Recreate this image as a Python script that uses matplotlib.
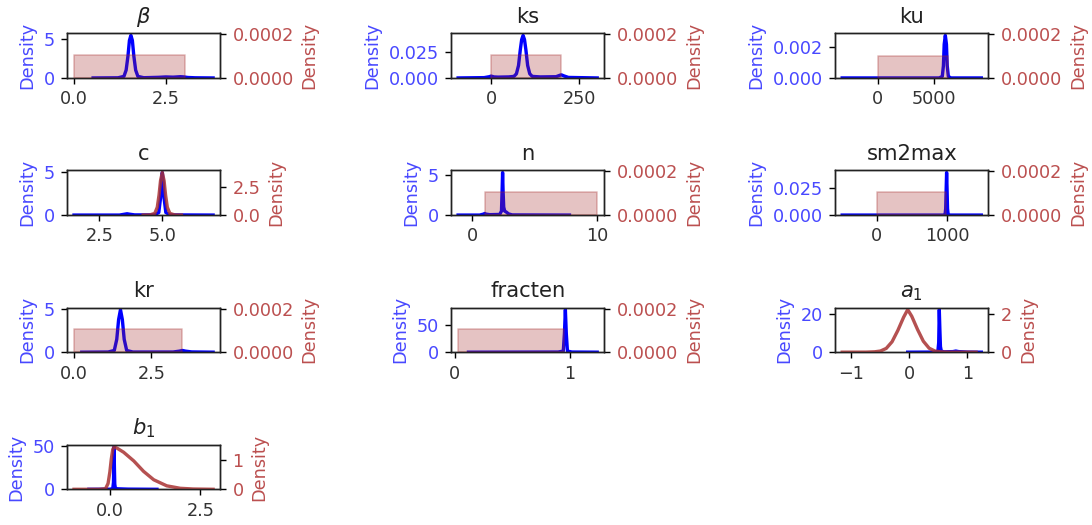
import matplotlib
matplotlib.use("Agg")
import matplotlib.pyplot as plt

# ---------------- data ----------------
titles = [r"$\beta$", "ks", "ku", "c", "n", "sm2max", "kr", "fracten", r"$a_1$", r"$b_1$"]

# posterior density curves (blue, left axis)
beta_x = [0.52, 1.2, 1.36, 1.42, 1.47, 1.51, 1.55, 1.59, 1.63, 1.68, 1.74, 1.9, 2.3, 2.5, 2.7, 2.9, 3.0, 3.1, 3.3, 3.79]
beta_y = [0.0, 0.02, 0.2, 1.0, 2.8, 4.8, 5.44, 4.8, 2.8, 1.0, 0.2, 0.03, 0.08, 0.13, 0.1, 0.16, 0.13, 0.06, 0.02, 0.0]
ks_x = [-94, -20, -5, 0, 8, 20, 50, 65, 72, 78, 83, 87, 91, 95, 99, 104, 110, 117, 140, 185, 195, 200, 207, 220, 302]
ks_y = [0, 0.0003, 0.0012, 0.0018, 0.001, 0.0008, 0.001, 0.0015, 0.004, 0.012, 0.027, 0.037, 0.041, 0.037, 0.027, 0.012, 0.004, 0.0015, 0.001, 0.0012, 0.0025, 0.003, 0.002, 0.0005, 0]
ku_x = [-3150, 5500, 5780, 5880, 5950, 6050, 6150, 6220, 6320, 6550, 9260]
ku_y = [0, 0, 0.0001, 0.0008, 0.0022, 0.00278, 0.0022, 0.0008, 0.0001, 0, 0]
c_x = [1.49, 3.3, 3.5, 3.6, 3.7, 3.9, 4.7, 4.86, 4.93, 4.97, 5.0, 5.03, 5.07, 5.14, 5.3, 7.02]
c_y = [0, 0, 0.1, 0.15, 0.1, 0.02, 0.02, 0.3, 2.0, 4.0, 4.95, 4.0, 2.0, 0.3, 0.02, 0]
n_x = [-1.13, 0.6, 0.9, 1.0, 1.1, 1.4, 2.2, 2.34, 2.39, 2.43, 2.47, 2.52, 2.6, 2.75, 2.9, 3.2, 7.78]
n_y = [0, 0, 0.12, 0.2, 0.12, 0.05, 0.08, 0.5, 3.0, 5.37, 3.0, 1.0, 0.5, 0.35, 0.15, 0.02, 0]
sm_x = [-491, 940, 968, 977, 984, 990, 996, 1003, 1012, 1040, 1482]
sm_y = [0, 0, 0.0005, 0.006, 0.025, 0.0398, 0.025, 0.006, 0.0005, 0, 0]
kr_x = [0.25, 1.1, 1.3, 1.38, 1.44, 1.5, 1.56, 1.62, 1.70, 1.9, 3.2, 3.4, 3.5, 3.6, 3.8, 4.49]
kr_y = [0, 0.02, 0.2, 1.5, 3.8, 4.95, 3.8, 1.5, 0.2, 0.02, 0.02, 0.12, 0.2, 0.12, 0.03, 0]
fr_x = [0.12, 0.9, 0.945, 0.955, 0.963, 0.971, 0.981, 1.02, 1.24]
fr_y = [0, 0.3, 2, 35, 79, 35, 2, 0.3, 0]
a1_x = [-0.03, 0.4, 0.49, 0.505, 0.515, 0.525, 0.535, 0.55, 0.6, 0.75, 0.8, 0.85, 1.0, 1.24]
a1_y = [0, 0.05, 0.3, 5, 22.5, 12, 3, 0.5, 0.2, 0.3, 0.6, 0.3, 0.05, 0]
b1_x = [-0.58, 0.0, 0.08, 0.1, 0.115, 0.125, 0.135, 0.15, 0.2, 0.5, 1.30]
b1_y = [0, 0.1, 0.8, 8, 48.7, 25, 6, 1.5, 0.6, 0.2, 0]

# priors: uniform (lo, hi, height) or density curve (red, right axis)
prior_uniform = {
    0: (0.0, 3.02, 0.000105),
    1: (0, 200, 0.000105),
    2: (0, 6250, 0.000102),
    4: (1.0, 10.0, 0.000107),
    5: (0, 980, 0.000107),
    6: (0.0, 3.5, 0.000107),
    7: (0.03, 0.955, 0.000107),
}
c_prior_x = [4.24, 4.5, 4.7, 4.8, 4.87, 4.93, 5.0, 5.07, 5.13, 5.2, 5.3, 5.5, 5.76]
c_prior_y = [0, 0.01, 0.15, 0.7, 1.8, 3.1, 3.83, 3.1, 1.8, 0.7, 0.15, 0.01, 0]
a1_prior_x = [-1.16, -0.75, -0.6, -0.5, -0.4, -0.3, -0.2, -0.1, -0.03, 0.04, 0.14, 0.24, 0.34, 0.44, 0.54, 0.7, 1.15]
a1_prior_y = [0, 0.002, 0.02, 0.06, 0.2, 0.55, 1.15, 1.85, 2.25, 1.9, 1.2, 0.58, 0.21, 0.06, 0.015, 0.002, 0]
b1_prior_x = [-0.99, -0.3, -0.12, -0.05, 0.0, 0.04, 0.08, 0.12, 0.2, 0.38, 0.66, 0.93, 1.21, 1.57, 1.94, 2.3, 2.85]
b1_prior_y = [0, 0, 0.02, 0.2, 0.6, 1.05, 1.38, 1.47, 1.42, 1.28, 0.98, 0.62, 0.33, 0.12, 0.035, 0.01, 0]
prior_curves = {3: (c_prior_x, c_prior_y), 8: (a1_prior_x, a1_prior_y), 9: (b1_prior_x, b1_prior_y)}

post = [(beta_x, beta_y), (ks_x, ks_y), (ku_x, ku_y), (c_x, c_y), (n_x, n_y),
        (sm_x, sm_y), (kr_x, kr_y), (fr_x, fr_y), (a1_x, a1_y), (b1_x, b1_y)]

# tick labels
xticks = [[0.0, 2.5], [0, 250], [0, 5000], [2.5, 5.0], [0, 10], [0, 1000],
          [0.0, 2.5], [0, 1], [-1, 0, 1], [0.0, 2.5]]
left_ticks = [[0, 5], [0.000, 0.025], [0.000, 0.002], [0, 5], [0, 5], [0.000, 0.025],
              [0, 5], [0, 50], [0, 20], [0, 50]]
right_ticks = [[0.0000, 0.0002], [0.0000, 0.0002], [0.0000, 0.0002], [0.0, 2.5],
               [0.0000, 0.0002], [0.0000, 0.0002], [0.0000, 0.0002], [0.0000, 0.0002],
               [0, 2], [0, 1]]

# ---------------- drawing ----------------
DPI = 127
BLUE_LINE = "blue"
BLUE_TEXT = "#4848ff"
RED_LINE = "#a83232"
RED_TEXT = "#bb4f4f"
FILL = "brown"

fig = plt.figure(figsize=(1092 / DPI, 525 / DPI), dpi=DPI)
gs = fig.add_gridspec(4, 3, left=0.0614, right=0.905, bottom=0.068, top=0.9366,
                      wspace=1.51, hspace=2.07)

for i, title in enumerate(titles):
    ax = fig.add_subplot(gs[i // 3, i % 3])
    ax2 = ax.twinx()
    px, py = post[i]
    ax.plot(px, py, color=BLUE_LINE, lw=1.9)
    xs = list(px)
    if i in prior_uniform:
        lo, hi, h = prior_uniform[i]
        ax2.fill_between([lo, hi], [h, h], 0, color=FILL, alpha=0.28, lw=1)
        xs += [lo, hi]
        ax2.set_ylim(0, 0.000205)
    else:
        qx, qy = prior_curves[i]
        ax2.plot(qx, qy, color=RED_LINE, lw=1.9, alpha=0.85)
        xs += list(qx)
        ax2.set_ylim(0, 1.05 * max(qy))
    lo_x, hi_x = min(xs), max(xs)
    pad = 0.05 * (hi_x - lo_x)
    ax.set_xlim(lo_x - pad, hi_x + pad)
    ax.set_ylim(0, 1.05 * max(py))

    ax.set_xticks(xticks[i])
    ax.set_yticks(left_ticks[i])
    ax2.set_yticks(right_ticks[i])
    ax.tick_params(axis="y", labelcolor=BLUE_TEXT)
    ax2.tick_params(axis="y", labelcolor=RED_TEXT)
    ax.tick_params(axis="x", labelcolor="#333333")
    ax.set_ylabel("Density", color=BLUE_TEXT)
    ax2.set_ylabel("Density", color=RED_TEXT)
    ax.set_title(title, color="#222222")
    for a in (ax, ax2):
        for s in a.spines.values():
            s.set_color("#222222")

fig.savefig("out.png", dpi=DPI)
